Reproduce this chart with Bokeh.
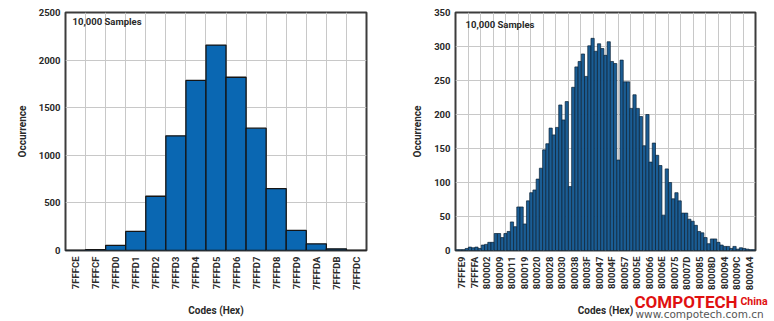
import math
from bokeh.plotting import figure
from bokeh.models import FixedTicker, Label, Range1d, GridBox, Column
from bokeh.embed import file_html
from bokeh.resources import INLINE

# ---------------- data ----------------
left_codes = ["7FFFCE", "7FFFCF", "7FFFD0", "7FFFD1", "7FFFD2", "7FFFD3", "7FFFD4", "7FFFD5",
              "7FFFD6", "7FFFD7", "7FFFD8", "7FFFD9", "7FFFDA", "7FFFDB", "7FFFDC"]
left_counts = [2, 10, 53, 200, 570, 1205, 1786, 2158, 1820, 1285, 650, 211, 70, 18, 1]
left_yticks = [0, 500, 1000, 1500, 2000, 2500]

right_tick_labels = ["7FFFE9", "7FFFFA", "800002", "800009", "800011", "800019", "800020", "800028",
                     "800030", "800038", "80003F", "800047", "80004F", "800057", "80005E", "800066",
                     "80006E", "800075", "80007D", "800085", "80008D", "800094", "80009C", "8000A4"]
right_counts = [1, 1, 1, 3, 5, 4, 5, 3, 8, 9,
                12, 12, 25, 25, 19, 25, 28, 42, 35, 64,
                64, 39, 73, 85, 89, 105, 121, 148, 157, 180,
                170, 181, 214, 192, 219, 94,
                240, 270, 278, 289, 256, 301, 312, 293, 304, 297, 287, 307, 278, 275, 133,
                280, 248, 248, 209, 229, 209, 197, 154, 200, 130, 158, 140, 125, 52,
                120, 100, 76, 85, 73, 55, 55, 46, 43, 37,
                28, 26, 19, 10, 17, 17, 12, 8, 6, 6,
                3, 6, 2, 4, 3, 2, 1, 1]
right_yticks = [0, 50, 100, 150, 200, 250, 300, 350]

title_text = "10,000 Samples"
x_title = "Codes (Hex)"
y_title = "Occurrence"
wm_main = "COMPOTECH"
wm_sub = "China"
wm_url = "www.compotech.com.cn"

FONT = "Roboto"
TXT = "#2a2a2a"


def style(p):
    p.background_fill_color = "white"
    p.border_fill_color = "white"
    p.outline_line_color = "#3c3c3c"
    p.outline_line_width = 2
    for ax in (p.xaxis, p.yaxis):
        ax.axis_line_color = None
        ax.major_tick_line_color = None
        ax.minor_tick_line_color = None
        ax.major_tick_out = 0
        ax.major_tick_in = 0
        ax.major_label_text_font = FONT
        ax.major_label_text_font_style = "bold"
        ax.major_label_text_font_size = "9.5px"
        ax.major_label_text_color = TXT
        ax.axis_label_text_font = FONT
        ax.axis_label_text_font_style = "bold"
        ax.axis_label_text_font_size = "10px"
        ax.axis_label_text_color = TXT
    p.xaxis.major_label_orientation = math.pi / 2
    p.xaxis.major_label_standoff = 6
    p.yaxis.major_label_standoff = 5
    p.yaxis.axis_label_standoff = 8
    p.xaxis.axis_label_standoff = 12
    p.xaxis.axis_label = x_title
    p.yaxis.axis_label = y_title
    p.grid.grid_line_color = "#c8c8c8"
    p.grid.grid_line_width = 1


# ---------------- left chart ----------------
nL = len(left_codes)
p1 = figure(width=387, height=321, output_backend="svg", toolbar_location=None,
            x_range=Range1d(0, nL), y_range=Range1d(0, left_yticks[-1]),
            min_border_left=65, min_border_right=21, min_border_top=12, min_border_bottom=71)
p1.vbar(x=[i + 0.5 for i in range(nL)], top=left_counts, width=1, bottom=0,
        fill_color="#0a67b2", line_color="#151515", line_width=1.3)
style(p1)
p1.xaxis.ticker = FixedTicker(ticks=[i + 0.5 for i in range(nL)])
p1.xaxis.major_label_overrides = {i + 0.5: c for i, c in enumerate(left_codes)}
p1.xgrid.ticker = FixedTicker(ticks=list(range(nL + 1)))
p1.yaxis.ticker = FixedTicker(ticks=left_yticks)
p1.add_layout(Label(x=0.35, y=2468, text=title_text, text_font=FONT, text_font_style="bold",
                    text_font_size="9.5px", text_color=TXT, text_baseline="top"))

# ---------------- right chart ----------------
nT = len(right_tick_labels)
nR = len(right_counts)
bw = nT / nR
p2 = figure(width=387, height=321, output_backend="svg", toolbar_location=None,
            x_range=Range1d(0, nT), y_range=Range1d(0, right_yticks[-1]),
            min_border_left=68, min_border_right=19, min_border_top=12, min_border_bottom=71)
p2.vbar(x=[(i + 0.5) * bw for i in range(nR)], top=right_counts, width=bw, bottom=0,
        fill_color="#1b5d94", line_color="#0b2236", line_width=0.7)
style(p2)
p2.xaxis.ticker = FixedTicker(ticks=[i + 0.5 for i in range(nT)])
p2.xaxis.major_label_overrides = {i + 0.5: c for i, c in enumerate(right_tick_labels)}
p2.xgrid.ticker = FixedTicker(ticks=list(range(nT + 1)))
p2.yaxis.ticker = FixedTicker(ticks=right_yticks)
p2.add_layout(Label(x=0.8, y=341, text=title_text, text_font=FONT, text_font_style="bold",
                    text_font_size="9.5px", text_color=TXT, text_baseline="top"))

# ---------------- transparent overlay for the watermark ----------------
wm = figure(width=387, height=321, output_backend="svg", toolbar_location=None,
            x_range=Range1d(0, 387), y_range=Range1d(321, 0),
            x_axis_type=None, y_axis_type=None, min_border=0)
wm.grid.visible = False
wm.background_fill_color = None
wm.border_fill_color = None
wm.outline_line_color = None
wm.add_layout(Label(x=247, y=301, text=wm_main, text_font=FONT,
                    text_font_style="bold", text_font_size="17px", text_color="#e01010",
                    text_baseline="alphabetic"))
wm.add_layout(Label(x=353, y=301, text=wm_sub, text_font=FONT,
                    text_font_style="bold", text_font_size="10.5px", text_color="#e01010",
                    text_baseline="alphabetic"))
wm.add_layout(Label(x=248, y=313, text=wm_url, text_font="DejaVu Sans",
                    text_font_size="10.5px", text_color="#555555", text_baseline="alphabetic"))

layout = GridBox(children=[(p1, 0, 0), (p2, 0, 1), (Column(children=[wm]), 0, 1)])
open("out.html", "w").write(file_html(layout, INLINE))
